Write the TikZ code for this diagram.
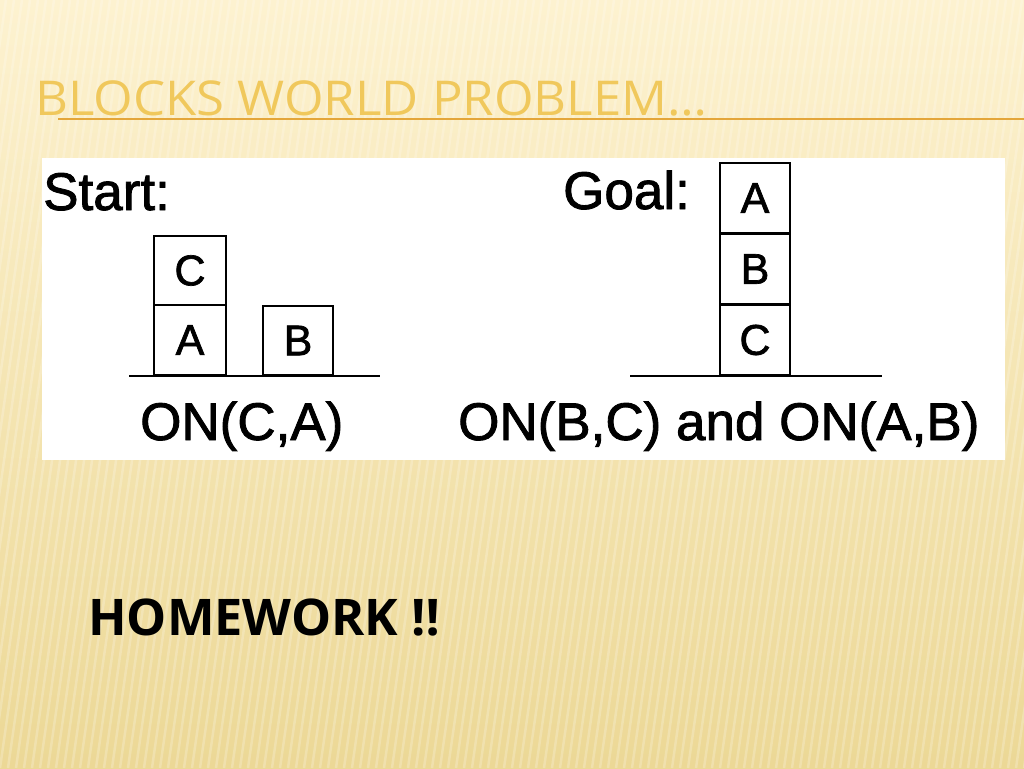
\documentclass[tikz,border=0pt]{standalone}
\usepackage{fontspec}
\setmainfont{Liberation Sans}[FakeBold=1.2]
\newfontfamily\figfont{Liberation Sans}[FakeBold=1.6]
\newfontfamily\osans{Open Sans}
\begin{document}
\begin{tikzpicture}[x=1pt,y=-1pt,
  titletext/.style={font=\osans\fontsize{48}{52}\selectfont, text=titlegold, anchor=base west, inner sep=0, xscale=1.06},
  figtext/.style={font=\figfont\fontsize{53}{57}\selectfont, text=black, anchor=base west, inner sep=0},
  blockbox/.style={draw=black, line width=2.2pt, minimum width=70pt, minimum height=70pt, inner sep=0,
                   font=\figfont\fontsize{43}{47}\selectfont},
  floorline/.style={draw=black, line width=2.6pt},
  hwtext/.style={font=\osans\bfseries\fontsize{50.5}{55}\selectfont, text=black, anchor=base west, inner sep=0}]
\definecolor{titlegold}{RGB}{240,200,92}
\definecolor{ulorange}{RGB}{228,166,58}
\definecolor{bgtop}{RGB}{253,242,208}
\definecolor{bgbot}{RGB}{236,216,150}
\useasboundingbox (0,0) rectangle (1024,768);
% background
\shade[top color=bgtop, bottom color=bgbot] (0,0) rectangle (1024,768);
\begin{scope}
\clip (0,0) rectangle (1024,768);
\foreach \i in {-40,...,140}{
  \draw[white, opacity=0.22, line width=2.5pt] ({\i*8},768) -- ({\i*8+110},0);
}
\end{scope}
% title
\node[titletext] (title) at (35,115) {BLOCKS WORLD PROBLEM…};
\coordinate (ulA) at (58,119);
\coordinate (ulB) at (1024,119);
\draw[ulorange, line width=2pt] (ulA) -- (ulB);
% white panel
\fill[white] (42,158) rectangle (1005,460);
% start
\node[figtext] (start) at (43,210) {Start:};
\node[blockbox, minimum width=72pt, minimum height=69pt] (sC) at (190,270.5) {C};
\node[blockbox, minimum width=72pt, minimum height=70pt] (sA) at (190,340) {A};
\node[blockbox, minimum width=70pt, minimum height=69pt] (sB) at (298,340.5) {B};
\coordinate (f1l) at (129,376);
\coordinate (f1r) at (380,376);
\draw[floorline] (f1l) -- (f1r);
\node[figtext] (onca) at (140,440) {ON(C,A)};
% goal
\node[figtext] (goal) at (563,209) {Goal:};
\node[blockbox, minimum height=70pt] (gA) at (755,198) {A};
\node[blockbox, minimum height=71pt] (gB) at (755,269) {B};
\node[blockbox, minimum height=70pt] (gC) at (755,340) {C};
\coordinate (f2l) at (630,376);
\coordinate (f2r) at (882,376);
\draw[floorline] (f2l) -- (f2r);
\node[figtext] (ongoal) at (458,440) {ON(B,C) and ON(A,B)};
% homework
\node[hwtext] (hw) at (88,635) {HOMEWORK ‼};
\end{tikzpicture}
\end{document}
